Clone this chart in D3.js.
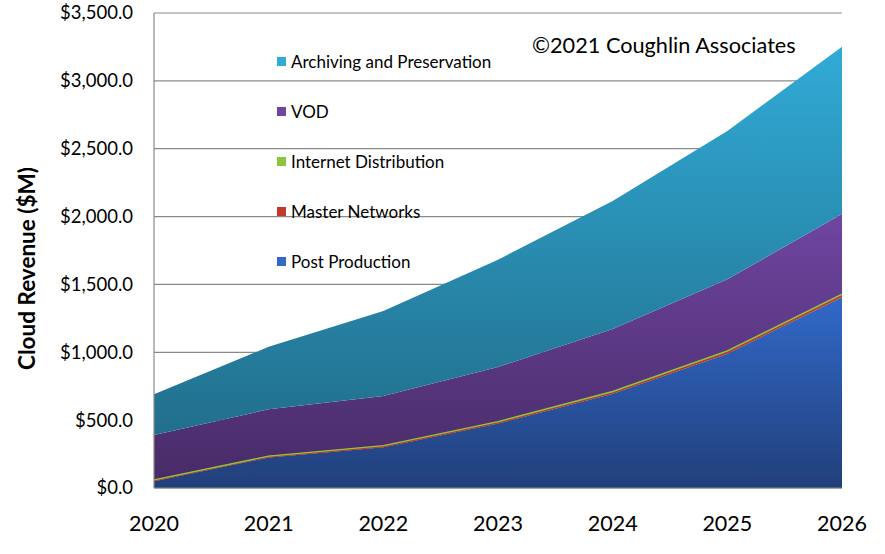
<!DOCTYPE html>
<html>
<head>
<meta charset="utf-8">
<script src="https://cdn.jsdelivr.net/npm/d3@7"></script>
<style>
  body { margin: 0; background: #fff; }
  svg { display: block; font-family: Lato, "Open Sans", sans-serif; }
</style>
</head>
<body>
<div id="container"></div>
<script>
// DATA (values in $M)
const years = [2020, 2021, 2022, 2023, 2024, 2025, 2026];
const series = ['Post Production', 'Master Networks', 'Internet Distribution', 'VOD', 'Archiving and Preservation'];
const postProduction = [50, 225, 300, 475, 695, 990, 1405];
const masterNetworks = [5, 5, 6, 7, 8, 10, 12];
const internetDistribution = [5, 5, 6, 7, 8, 10, 12];
const vod = [330, 345, 366, 402, 460, 528, 590];
const archiving = [300, 460, 626, 791, 944, 1092, 1233];
const yTicks = [0, 500, 1000, 1500, 2000, 2500, 3000, 3500];

const values = [postProduction, masterNetworks, internetDistribution, vod, archiving];
const colors = [
  ['#3169c9', '#213f7a'],
  ['#c0392b', '#8e1f1f'],
  ['#8cc63f', '#5f8f28'],
  ['#6f45a1', '#462a65'],
  ['#31abd6', '#1f6682']
];

const width = 885, height = 554;
const margin = {top: 13, right: 43, bottom: 66, left: 154};

const table = years.map((yr, i) => {
  const row = {year: yr};
  series.forEach((s, j) => row[s] = values[j][i]);
  return row;
});
const stacked = d3.stack().keys(series)(table);

const x = d3.scaleLinear()
  .domain(d3.extent(years))
  .range([margin.left, width - margin.right]);
const y = d3.scaleLinear()
  .domain([0, 3500])
  .range([height - margin.bottom, margin.top]);

const svg = d3.select('#container')
  .append('svg')
  .attr('width', width)
  .attr('height', height);

// gradients, one per series
const defs = svg.append('defs');
stacked.forEach((layer, j) => {
  const top = d3.max(layer, d => d[1]);
  const g = defs.append('linearGradient')
    .attr('id', 'grad' + j)
    .attr('gradientUnits', 'userSpaceOnUse')
    .attr('x1', 0).attr('x2', 0)
    .attr('y1', y(top)).attr('y2', y(0));
  g.append('stop').attr('offset', '0%').attr('stop-color', colors[j][0]);
  g.append('stop').attr('offset', '100%').attr('stop-color', colors[j][1]);
});

// gridlines
svg.append('g')
  .selectAll('line')
  .data(yTicks)
  .join('line')
    .attr('x1', margin.left)
    .attr('x2', width - margin.right)
    .attr('y1', d => y(d))
    .attr('y2', d => y(d))
    .attr('stroke', '#8a8a8a')
    .attr('stroke-width', 1.2);

// areas
const area = d3.area()
  .x((d, i) => x(years[i]))
  .y0(d => y(d[0]))
  .y1(d => y(d[1]));

svg.append('g')
  .selectAll('path')
  .data(stacked)
  .join('path')
    .attr('fill', (d, j) => `url(#grad${j})`)
    .attr('d', area);

// thin layers shown as lines
const topLine = d3.line()
  .x((d, i) => x(years[i]))
  .y(d => y(d[1]));
[1, 2].forEach(j => {
  svg.append('path')
    .attr('fill', 'none')
    .attr('stroke', colors[j][0])
    .attr('stroke-width', 1.4)
    .attr('d', topLine(stacked[j]));
});

// axes frame
svg.append('line')
  .attr('x1', margin.left).attr('x2', margin.left)
  .attr('y1', y(3500)).attr('y2', y(0))
  .attr('stroke', '#8a8a8a').attr('stroke-width', 1.2);
svg.append('line')
  .attr('x1', margin.left).attr('x2', width - margin.right)
  .attr('y1', y(0)).attr('y2', y(0))
  .attr('stroke', '#8a8a8a').attr('stroke-width', 1.2);

// y tick labels
const fmt = d => '$' + d3.format(',.1f')(d);
svg.append('g')
  .selectAll('text')
  .data(yTicks)
  .join('text')
    .attr('x', margin.left - 21)
    .attr('y', d => y(d))
    .attr('dy', '0.35em')
    .attr('text-anchor', 'end')
    .attr('font-size', 18.5)
    .attr('fill', '#000')
    .text(fmt);

// x tick labels
svg.append('g')
  .selectAll('text')
  .data(years)
  .join('text')
    .attr('x', d => x(d))
    .attr('y', height - margin.bottom + 43)
    .attr('text-anchor', 'middle')
    .attr('font-size', 21.5)
    .attr('fill', '#000')
    .text(d => d);

// y title
svg.append('text')
  .attr('transform', `translate(35,${(y(0) + y(3500)) / 2 + 18}) rotate(-90)`)
  .attr('text-anchor', 'middle')
  .attr('font-size', 22.5)
  .attr('font-weight', 'bold')
  .text('Cloud Revenue ($M)');

// legend (top series first)
const legend = svg.append('g')
  .selectAll('g')
  .data(series.slice().reverse())
  .join('g')
    .attr('transform', (d, i) => `translate(277,${62 + i * 50})`);
legend.append('rect')
  .attr('x', 0).attr('y', -5)
  .attr('width', 9).attr('height', 9)
  .attr('fill', d => colors[series.indexOf(d)][0]);
legend.append('text')
  .attr('x', 14)
  .attr('dy', '0.35em')
  .attr('font-size', 17)
  .text(d => d);

// copyright note
svg.append('text')
  .attr('x', 532)
  .attr('y', 53)
  .attr('font-size', 21.7)
  .text('©2021 Coughlin Associates');
</script>
</body>
</html>
